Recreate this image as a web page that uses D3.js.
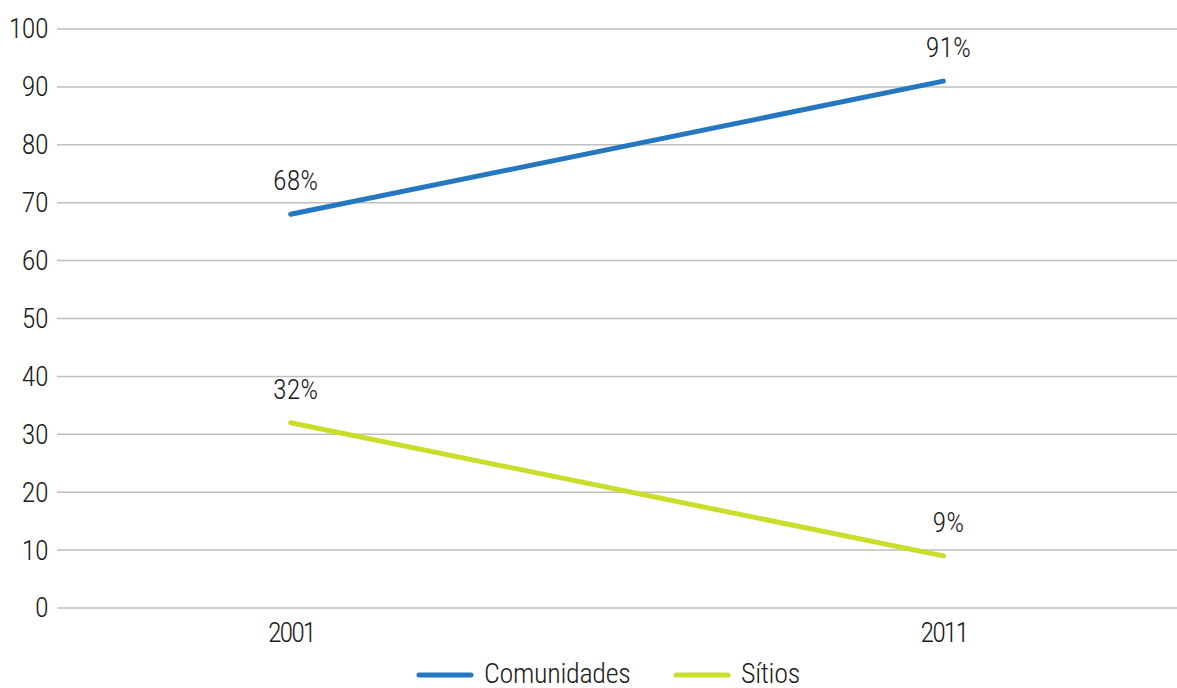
<!DOCTYPE html>
<html>
<head>
<meta charset="utf-8">
<script src="https://cdn.jsdelivr.net/npm/d3@7"></script>
<style>
  html, body { margin: 0; padding: 0; background: #fff; }
  svg text { font-family: "Roboto Condensed", "Liberation Sans Narrow", "DejaVu Sans Condensed", sans-serif; font-stretch: condensed; font-weight: 300; fill: #1a1a1a; }
</style>
</head>
<body>
<svg id="chart" width="1177" height="688"></svg>
<script>
const years = ["2001", "2011"];
const comunidades = [68, 91];
const sitios = [32, 9];
const yTicks = [0, 10, 20, 30, 40, 50, 60, 70, 80, 90, 100];
const seriesNames = ["Comunidades", "Sítios"];
const seriesColors = ["#2477c0", "#c9dd2a"];

const svg = d3.select("#chart");
const plot = { left: 57, right: 1177, top: 29, bottom: 608 };
const fontSize = 28;

const x = d3.scalePoint().domain(years).range([plot.left, plot.right]).padding(0.358);
const y = d3.scaleLinear().domain([0, 100]).range([plot.bottom, plot.top]);

// horizontal grid
svg.append("g").selectAll("line").data(yTicks).join("line")
  .attr("x1", plot.left).attr("x2", plot.right)
  .attr("y1", d => y(d)).attr("y2", d => y(d))
  .attr("stroke", "#bfbfbf").attr("stroke-width", 1.5);

// y axis labels
const yAxis = svg.append("g").attr("transform", `translate(${plot.left},0)`)
  .call(d3.axisLeft(y).tickValues(yTicks).tickSize(0).tickPadding(9));
yAxis.select(".domain").remove();
yAxis.selectAll("text").attr("font-size", fontSize).attr("fill", "#1a1a1a").attr("dy", "0.32em")
  .attr("letter-spacing", -0.5);

// x axis labels
const xAxis = svg.append("g").attr("transform", `translate(0,${plot.bottom})`)
  .call(d3.axisBottom(x).tickSize(0).tickPadding(14));
xAxis.select(".domain").remove();
xAxis.selectAll("text").attr("font-size", fontSize).attr("fill", "#1a1a1a")
  .attr("letter-spacing", -2);

const series = [comunidades, sitios];
const line = d3.line().x((d, i) => x(years[i])).y(d => y(d));

series.forEach((vals, s) => {
  svg.append("path").datum(vals)
    .attr("d", line)
    .attr("fill", "none")
    .attr("stroke", seriesColors[s])
    .attr("stroke-width", 5)
    .attr("stroke-linecap", "round");
  svg.append("g").selectAll("text").data(vals).join("text")
    .attr("x", (d, i) => x(years[i]) + 5)
    .attr("y", (d, i) => y(d) - 24)
    .attr("text-anchor", "middle")
    .attr("font-size", fontSize)
    .text(d => d + "%");
});

// legend
const legendX = [417, 674];
const legend = svg.append("g").selectAll("g").data(seriesNames).join("g")
  .attr("transform", (d, i) => `translate(${legendX[i]},675)`);
legend.append("line")
  .attr("x1", 2).attr("x2", 54).attr("y1", 0).attr("y2", 0)
  .attr("stroke", (d, i) => seriesColors[i])
  .attr("stroke-width", 5).attr("stroke-linecap", "round");
legend.append("text")
  .attr("x", 67).attr("y", 8)
  .attr("font-size", fontSize)
  .attr("letter-spacing", -0.3)
  .text(d => d);
</script>
</body>
</html>
